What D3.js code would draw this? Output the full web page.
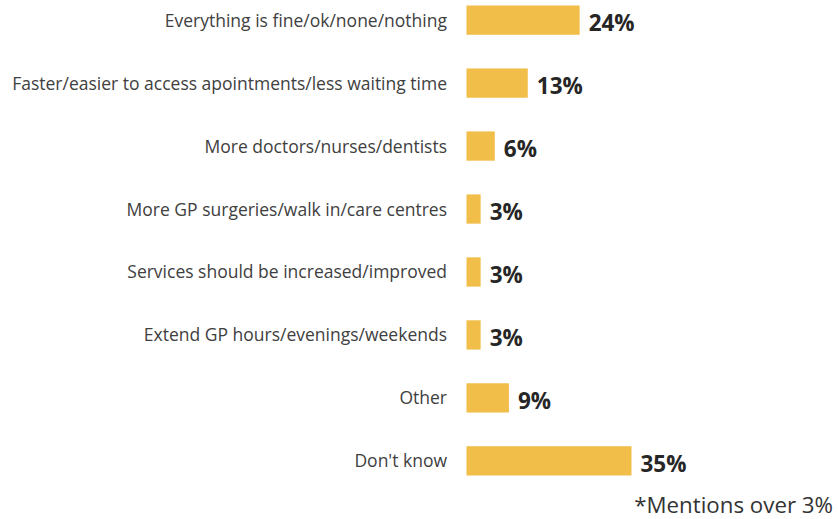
<!DOCTYPE html>
<html><head><meta charset="utf-8">
<script src="https://cdn.jsdelivr.net/npm/d3@7"></script>
<style>body{margin:0;background:#fff}</style>
</head><body>
<svg id="c" width="838" height="519"></svg>
<script>
const categories = ["Everything is fine/ok/none/nothing","Faster/easier to access apointments/less waiting time","More doctors/nurses/dentists","More GP surgeries/walk in/care centres","Services should be increased/improved","Extend GP hours/evenings/weekends","Other","Don't know"];
const values = [24,13,6,3,3,3,9,35];
const valueLabels = ["24%","13%","6%","3%","3%","3%","9%","35%"];
const footnote = "*Mentions over 3%";

const svg = d3.select("#c");
const font = "'Open Sans', 'Noto Sans', sans-serif";
const x = d3.scaleLinear().domain([0,35]).range([466.5,631.5]);
const y = d3.scaleBand().domain(categories).range([-11.5,492.5]).paddingInner(0.535).paddingOuter(0.27);

svg.selectAll("rect.bar").data(categories).join("rect")
  .attr("x", x(0)).attr("y", d=>y(d))
  .attr("width", (d,i)=>x(values[i])-x(0)).attr("height", y.bandwidth())
  .attr("fill","#F2BE4A");

svg.selectAll("text.cat").data(categories).join("text")
  .attr("x", 447).attr("y", d=>y(d)+y.bandwidth()/2+6.5)
  .attr("text-anchor","end").attr("font-family",font).attr("font-size",17.5)
  .attr("fill","#404040").text(d=>d);

svg.selectAll("text.val").data(categories).join("text")
  .attr("x",(d,i)=>x(values[i])+9).attr("y", d=>y(d)+y.bandwidth()/2+11)
  .attr("font-family",font).attr("font-size",22.5).attr("font-weight","bold")
  .attr("fill","#262626").text((d,i)=>valueLabels[i]);

svg.append("text").attr("x",833).attr("y",513).attr("text-anchor","end")
  .attr("font-family",font).attr("font-size",22.3).attr("fill","#333").text(footnote);
</script>
</body></html>
